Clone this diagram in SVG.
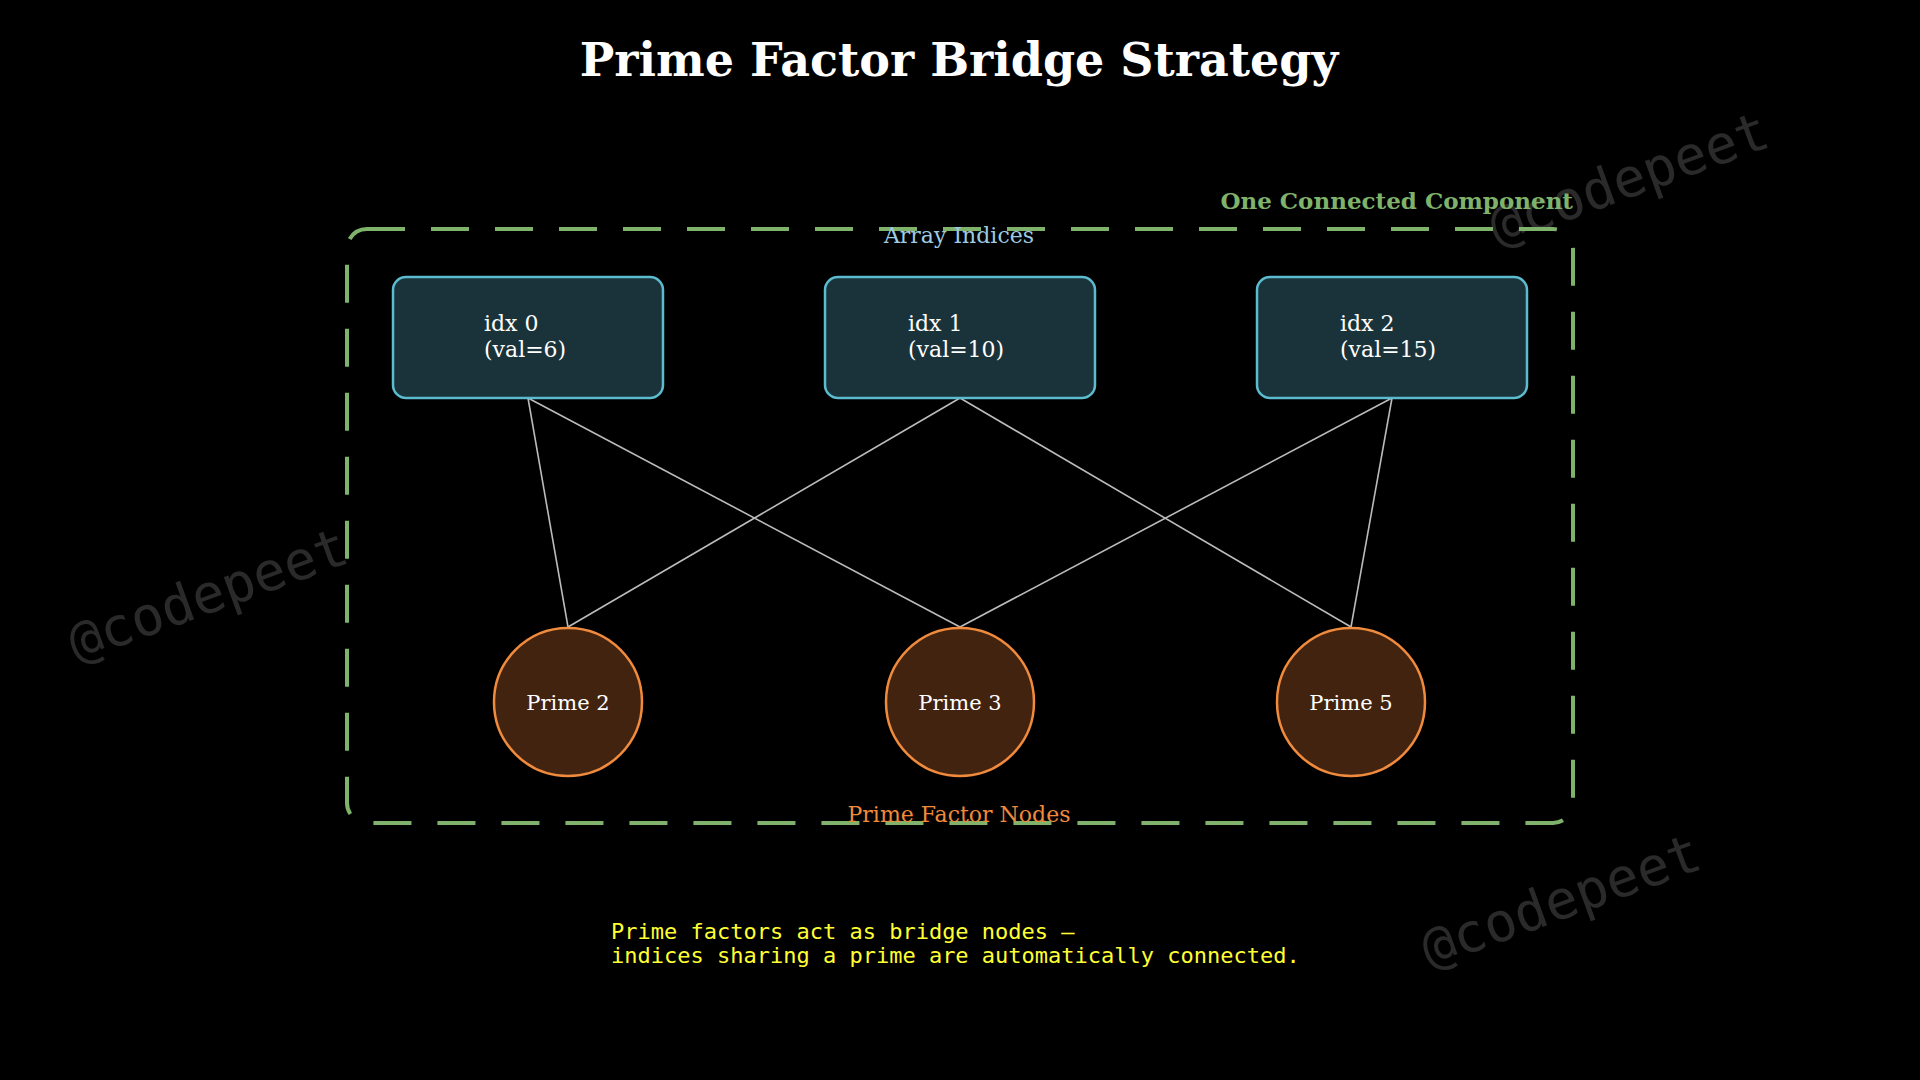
<svg xmlns="http://www.w3.org/2000/svg" width="1920" height="1080" viewBox="0 0 1920 1080">
<style>
.box{fill:#1a333b;stroke:#5bbcd0;stroke-width:2.5}
.cir{fill:#42230f;stroke:#f08a3c;stroke-width:2.5}
.bt{font-family:"DejaVu Serif","Liberation Serif",serif;font-size:22px;fill:#ffffff}
.ct{font-family:"DejaVu Serif","Liberation Serif",serif;font-size:21px;fill:#ffffff;text-anchor:middle}
.wm{font-family:"DejaVu Sans Mono",monospace;font-size:54px;fill:#2a2a2a;text-anchor:middle}
.edge{stroke:#bbbbbb;stroke-width:1.6;fill:none}
</style>
<rect width="1920" height="1080" fill="#000"/>
<text class="wm" transform="translate(214,612) rotate(-20)">@codepeet</text>
<text class="wm" transform="translate(1635,196) rotate(-20)">@codepeet</text>
<text class="wm" transform="translate(1567,918) rotate(-20)">@codepeet</text>
<text x="959" y="76" text-anchor="middle" font-family="DejaVu Serif,serif" font-weight="bold" font-size="46" fill="#fff">Prime Factor Bridge Strategy</text>
<g id="cluster">
<rect x="347" y="229" width="1226" height="594" rx="20" fill="none" stroke="#7fb26a" stroke-width="4" stroke-dasharray="38,26"/>
<text x="1573" y="209" text-anchor="end" font-family="DejaVu Serif,serif" font-weight="bold" font-size="23" fill="#7fb26a">One Connected Component</text>
<text x="959" y="243" text-anchor="middle" font-family="DejaVu Serif,serif" font-size="22" fill="#9ecae1">Array Indices</text>
<text x="959" y="822" text-anchor="middle" font-family="DejaVu Serif,serif" font-size="22" fill="#f08a3c">Prime Factor Nodes</text>
</g>
<g id="connectors">
<line class="edge" x1="528" y1="398" x2="568" y2="627"/>
<line class="edge" x1="528" y1="398" x2="960" y2="627"/>
<line class="edge" x1="960" y1="398" x2="568" y2="627"/>
<line class="edge" x1="960" y1="398" x2="1351" y2="627"/>
<line class="edge" x1="1392" y1="398" x2="960" y2="627"/>
<line class="edge" x1="1392" y1="398" x2="1351" y2="627"/>
</g>
<g id="idx0"><rect class="box" x="393" y="277" width="270" height="121" rx="13"/><text class="bt" x="484" y="331">idx 0</text><text class="bt" x="484" y="357">(val=6)</text></g>
<g id="idx1"><rect class="box" x="825" y="277" width="270" height="121" rx="13"/><text class="bt" x="908" y="331">idx 1</text><text class="bt" x="908" y="357">(val=10)</text></g>
<g id="idx2"><rect class="box" x="1257" y="277" width="270" height="121" rx="13"/><text class="bt" x="1340" y="331">idx 2</text><text class="bt" x="1340" y="357">(val=15)</text></g>
<g id="p2"><circle class="cir" cx="568" cy="702" r="74"/><text class="ct" x="568" y="710">Prime 2</text></g>
<g id="p3"><circle class="cir" cx="960" cy="702" r="74"/><text class="ct" x="960" y="710">Prime 3</text></g>
<g id="p5"><circle class="cir" cx="1351" cy="702" r="74"/><text class="ct" x="1351" y="710">Prime 5</text></g>
<g id="note" font-family="DejaVu Sans Mono,monospace" font-size="22" fill="#ffff33">
<text x="611" y="939">Prime factors act as bridge nodes —</text>
<text x="611" y="963">indices sharing a prime are automatically connected.</text>
</g>
</svg>
